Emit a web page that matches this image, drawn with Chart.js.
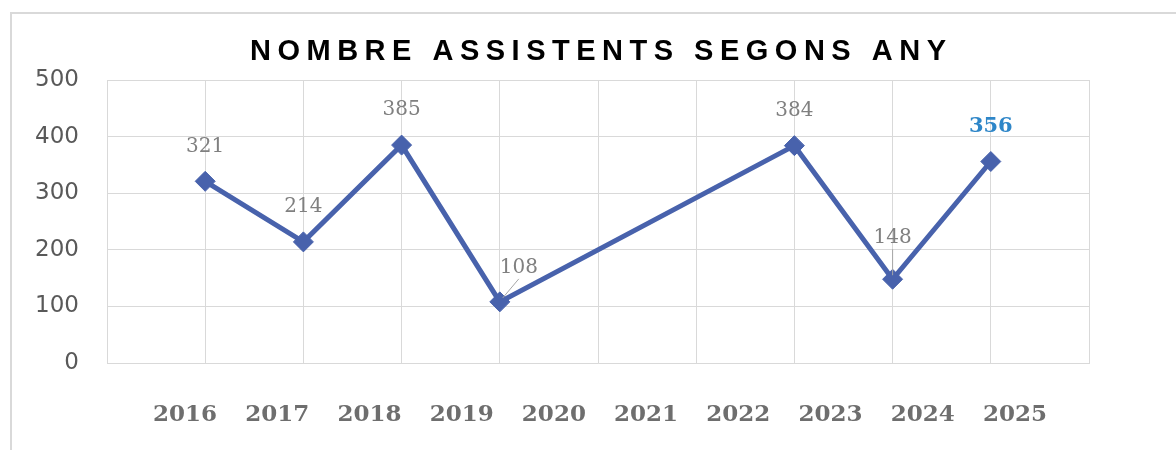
<!DOCTYPE html>
<html>
<head>
<meta charset="utf-8">
<script src="https://cdn.jsdelivr.net/npm/chart.js@4"></script>
<style>
  html, body { margin: 0; padding: 0; background: #fff; overflow: hidden; }
  .frame { position: absolute; left: 10px; top: 12px; width: 1400px; height: 700px; border-top: 2px solid #d9d9d9; border-left: 2px solid #d9d9d9; }
  .wrap { position: absolute; left: 0; top: 0; width: 1176px; height: 450px; }
</style>
</head>
<body>
<div class="frame"></div>
<div class="wrap"><canvas id="chart"></canvas></div>
<script>
const chartTitle = "NOMBRE ASSISTENTS SEGONS ANY";
const years = ["2016", "2017", "2018", "2019", "2020", "2021", "2022", "2023", "2024", "2025"];
// one value per grid slot; 2020/2021 had no edition, the line jumps over them
const attendees = [321, 214, 385, 108, null, null, 384, 148, 356];
const highlightIndex = 8;

const LINE = "#4862ac";

// title with wide letter spacing (canvas letterSpacing)
const spacedTitle = {
  id: "spacedTitle",
  afterDraw(chart, args, opts) {
    const ctx = chart.ctx;
    const area = chart.chartArea;
    ctx.save();
    ctx.font = opts.font;
    ctx.fillStyle = opts.color;
    ctx.textAlign = "left";
    ctx.textBaseline = "middle";
    let w;
    if ("letterSpacing" in ctx) {
      ctx.letterSpacing = opts.spacing + "px";
      w = ctx.measureText(opts.text).width - opts.spacing;
    } else {
      w = ctx.measureText(opts.text).width;
    }
    ctx.fillText(opts.text, (area.left + area.right) / 2 - w / 2, opts.y);
    ctx.restore();
  },
};

// value labels above the markers
const pointLabels = {
  id: "pointLabels",
  afterDatasetsDraw(chart, args, opts) {
    const ctx = chart.ctx;
    const meta = chart.getDatasetMeta(0);
    ctx.save();
    ctx.textAlign = "center";
    ctx.textBaseline = "middle";
    meta.data.forEach((pt, i) => {
      const v = attendees[i];
      if (v == null) return;
      const n = opts.nudges[i] || {};
      const lx = pt.x + (n.dx || 0);
      const ly = pt.y - (n.dy ?? opts.dy);
      if (n.leader) {
        ctx.strokeStyle = opts.leaderColor;
        ctx.lineWidth = 1;
        ctx.beginPath();
        ctx.moveTo(lx, ly + 11);
        ctx.lineTo(pt.x + (n.dx ? 3 : 0), pt.y - 4);
        ctx.stroke();
      }
      const hl = i === highlightIndex;
      ctx.font = hl ? opts.hlFont : opts.font;
      ctx.fillStyle = hl ? opts.hlColor : opts.color;
      ctx.fillText(String(v), lx, ly);
    });
    ctx.restore();
  },
};

new Chart(document.getElementById("chart"), {
  type: "line",
  data: {
    datasets: [{
      label: "Assistents",
      data: attendees.map((v, i) => ({ x: i + 1, y: v })),
      borderColor: LINE,
      backgroundColor: LINE,
      borderWidth: 5,
      pointStyle: "rectRot",
      pointRadius: 10,
      pointBorderWidth: 1,
      pointBackgroundColor: LINE,
      pointBorderColor: LINE,
      spanGaps: true,
      tension: 0,
      clip: false,
    }],
  },
  options: {
    responsive: true,
    maintainAspectRatio: false,
    animation: false,
    layout: { padding: { top: 80, right: 87, bottom: 0, left: 0 } },
    plugins: {
      legend: { display: false },
      tooltip: { enabled: false },
      title: { display: false },
      spacedTitle: {
        text: chartTitle,
        font: "bold 29px 'Liberation Sans', Arial, sans-serif",
        color: "#000",
        spacing: 6.5,
        y: 52,
      },
      pointLabels: {
        font: "20px 'DejaVu Serif', serif",
        color: "#808080",
        hlFont: "bold 21px 'DejaVu Serif', serif",
        hlColor: "#2e86c8",
        leaderColor: "#a6a6a6",
        dy: 35,
        nudges: { 3: { dx: 19, dy: 34, leader: true }, 7: { dy: 41, leader: true } },
      },
    },
    scales: {
      x: {
        type: "linear",
        position: "bottom",
        min: 0,
        max: 10,
        ticks: { display: false, stepSize: 1 },
        grid: { color: "#d9d9d9", lineWidth: 1, drawTicks: false },
        border: { color: "#d9d9d9" },
        afterFit: (s) => { s.height = 0; },
      },
      xl: {
        type: "linear",
        position: "bottom",
        min: -0.846,
        max: 9.803,
        afterBuildTicks: (s) => { s.ticks = years.map((_, i) => ({ value: i })); },
        ticks: {
          autoSkip: false,
          maxRotation: 0,
          padding: 38,
          color: "#6e6e6e",
          font: { family: "'DejaVu Serif', serif", size: 23, weight: "bold" },
          callback: (v) => years[v],
        },
        grid: { display: false, drawTicks: false },
        border: { display: false },
        afterFit: (s) => { s.height = 87; },
      },
      y: {
        min: 0,
        max: 500,
        ticks: {
          stepSize: 100,
          padding: 28,
          color: "#595959",
          font: { family: "'DejaVu Sans', sans-serif", size: 23 },
        },
        grid: { color: "#d9d9d9", lineWidth: 1, drawTicks: false },
        border: { color: "#d9d9d9" },
        afterFit: (s) => { s.width = 107; },
      },
    },
  },
  plugins: [spacedTitle, pointLabels],
});
</script>
</body>
</html>
